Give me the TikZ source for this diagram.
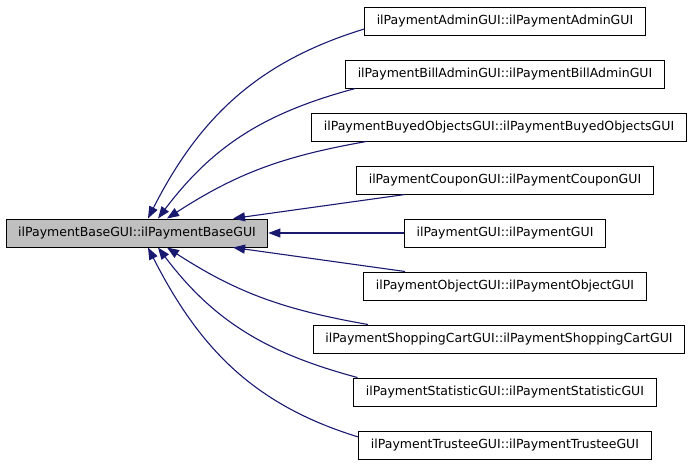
\documentclass[tikz,border=0pt]{standalone}
\usepackage{fontspec}
\setmainfont{DejaVu Sans}
\usepackage{xcolor}
\usepackage{tikz}
\usetikzlibrary{arrows.meta, positioning}

\definecolor{edgeblue}{HTML}{191970}
\definecolor{basegray}{HTML}{BFBFBF}

\begin{document}
\begin{tikzpicture}[
  x=1pt, y=-1pt,
  cls/.style={rectangle, draw=black, line width=1pt, fill=white, minimum height=28pt,
              inner xsep=12pt, font=\fontsize{12.5}{15}\selectfont},
  arr/.style={-{Triangle[length=12pt,width=9pt]}, draw=edgeblue, line width=1.1pt}
]
\useasboundingbox (0,0) rectangle (699,467);

% Column x and row y positions
\def\colX{505}
\def\colW{499}

% Base class
\node[cls, fill=basegray] (base) at (137,233) {ilPaymentBaseGUI::ilPaymentBaseGUI};

% Derived classes
\node[cls] (admin)     at (\colX,21)  {ilPaymentAdminGUI::ilPaymentAdminGUI};
\node[cls] (billadmin) at (\colX,74)  {ilPaymentBillAdminGUI::ilPaymentBillAdminGUI};
\node[cls] (buyed)     at (\colW,127) {ilPaymentBuyedObjectsGUI::ilPaymentBuyedObjectsGUI};
\node[cls] (coupon)    at (\colX,180) {ilPaymentCouponGUI::ilPaymentCouponGUI};
\node[cls] (payment)   at (\colX,233) {ilPaymentGUI::ilPaymentGUI};
\node[cls] (object)    at (\colX,286) {ilPaymentObjectGUI::ilPaymentObjectGUI};
\node[cls] (shopping)  at (\colW,339) {ilPaymentShoppingCartGUI::ilPaymentShoppingCartGUI};
\node[cls] (statistic) at (\colX,392) {ilPaymentStatisticGUI::ilPaymentStatisticGUI};
\node[cls] (trustee)   at (\colX,445) {ilPaymentTrusteeGUI::ilPaymentTrusteeGUI};

% Inheritance arrows
\draw[arr] ([yshift=-8pt]admin.west) to[out=197, in=63] ([xshift=11pt]base.north);
\draw[arr] ([xshift=10pt]billadmin.south west) to[out=195, in=53] ([xshift=21pt]base.north);
\draw[arr] ([xshift=55pt]buyed.south west) to[out=190, in=33] ([xshift=30pt]base.north);
\draw[arr] ([xshift=-100pt]coupon.south) -- ([xshift=96pt]base.north);
\draw[arr] (payment.west) -- (base.east);
\draw[arr] ([xshift=-100pt]object.north) -- ([xshift=96pt]base.south);
\draw[arr] ([xshift=55pt]shopping.north west) to[out=170, in=-33] ([xshift=30pt]base.south);
\draw[arr] ([xshift=4pt]statistic.north west) to[out=165, in=-53] ([xshift=21pt]base.south);
\draw[arr] ([yshift=8pt]trustee.west) to[out=163, in=-63] ([xshift=11pt]base.south);
\end{tikzpicture}
\end{document}
